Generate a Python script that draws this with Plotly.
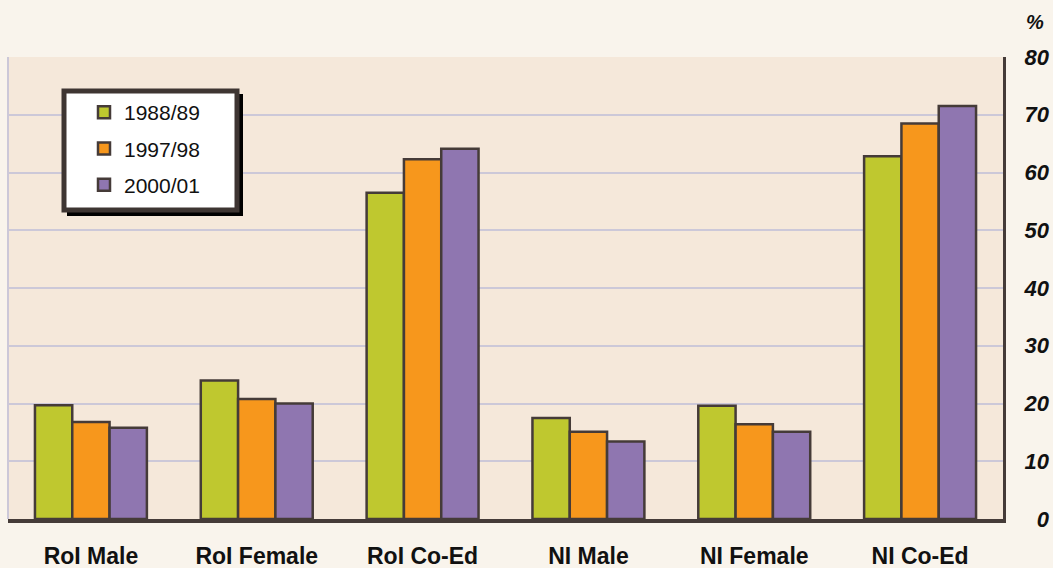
import plotly.graph_objects as go

categories = ["RoI Male", "RoI Female", "RoI Co-Ed", "NI Male", "NI Female", "NI Co-Ed"]
series_names = ["1988/89", "1997/98", "2000/01"]
values_1988 = [19.7, 24.0, 56.5, 17.5, 19.6, 62.8]
values_1997 = [16.8, 20.8, 62.3, 15.1, 16.4, 68.5]
values_2000 = [15.8, 20.0, 64.1, 13.4, 15.1, 71.5]
y_ticks = [0, 10, 20, 30, 40, 50, 60, 70, 80]

colors = ["#BFC82F", "#F7971C", "#8F76B0"]
edge = "#453B38"

W, H = 1053, 568
ml, mr, mt, mb = 8, 4, 57, 49
pw = W - ml - mr
ph = H - mt - mb


def px_x(x):
    return (x - ml) / pw


def px_y(y):
    return (H - mb - y) / ph


fig = go.Figure()
for name, vals, col in zip(series_names, [values_1988, values_1997, values_2000], colors):
    fig.add_trace(go.Bar(
        x=categories, y=vals, name=name, legendgroup=name,
        marker=dict(color=col, line=dict(color=edge, width=2.5)),
    ))

# invisible trace for the right-hand tick axis
fig.add_trace(go.Scatter(x=[categories[0]], y=[0], yaxis="y2", mode="markers",
                         marker=dict(opacity=0), showlegend=False, hoverinfo="skip"))

x_dom_right = (1003 - ml) / pw

# legend box (drawn as shapes) and shadow
fig.add_shape(type="rect", xref="paper", yref="paper",
              x0=px_x(67), x1=px_x(243), y0=px_y(216), y1=px_y(94),
              fillcolor="#000000", line=dict(width=0), layer="above")
fig.add_shape(type="rect", xref="paper", yref="paper",
              x0=px_x(64), x1=px_x(237), y0=px_y(210), y1=px_y(91),
              fillcolor="#FFFFFF", line=dict(color="#3E3532", width=5), layer="above")
# left light border
fig.add_shape(type="line", xref="x domain", yref="y",
              x0=0, x1=0, y0=0, y1=80, line=dict(color="#CCC8D8", width=2), layer="below")

fig.update_layout(
    width=W, height=H,
    margin=dict(l=ml, r=mr, t=mt, b=mb, pad=0, autoexpand=False),
    paper_bgcolor="#F9F4EC",
    plot_bgcolor="#F5E8DA",
    barmode="group", bargap=0.325, bargroupgap=0,
    font=dict(family="Arial, Liberation Sans, sans-serif", color="#111111"),
    showlegend=True,
    legend=dict(
        x=px_x(84), y=px_y(92),
        xanchor="left", yanchor="top",
        bgcolor="rgba(0,0,0,0)", borderwidth=0,
        font=dict(size=21, color="#111111"),
        traceorder="grouped", tracegroupgap=6,
    ),
    xaxis=dict(
        domain=[0, x_dom_right], automargin=False,
        showline=True, linecolor=edge, linewidth=4,
        ticks="", showgrid=False,
        tickfont=dict(size=23, family="Arial, Liberation Sans, sans-serif", weight="bold", color="#111111"),
        ticklabelstandoff=13,
    ),
    yaxis=dict(
        range=[0, 80], side="right", automargin=False,
        tickvals=y_ticks,
        showticklabels=False,
        showgrid=True, gridcolor="#CCC8D8", gridwidth=2,
        showline=True, linecolor=edge, linewidth=3,
        zeroline=False, ticks="",
    ),
    yaxis2=dict(
        range=[0, 80], overlaying="y", anchor="free", position=1.0, side="left",
        automargin=False,
        tickvals=y_ticks, showgrid=False, showline=False, zeroline=False, ticks="",
        tickfont=dict(size=22, family="Arial, Liberation Sans, sans-serif", weight="bold",
                      style="italic", color="#111111"),
        ticklabelstandoff=0,
    ),
    annotations=[dict(
        text="<b><i>%</i></b>", xref="paper", yref="paper",
        x=px_x(1046), y=px_y(22), xanchor="right", yanchor="middle",
        showarrow=False, font=dict(size=20, color="#111111"),
    )],
)

fig.write_html("out.html", config={"displayModeBar": False},
               post_script="document.body.style.margin='0px';document.body.style.overflow='hidden';")
